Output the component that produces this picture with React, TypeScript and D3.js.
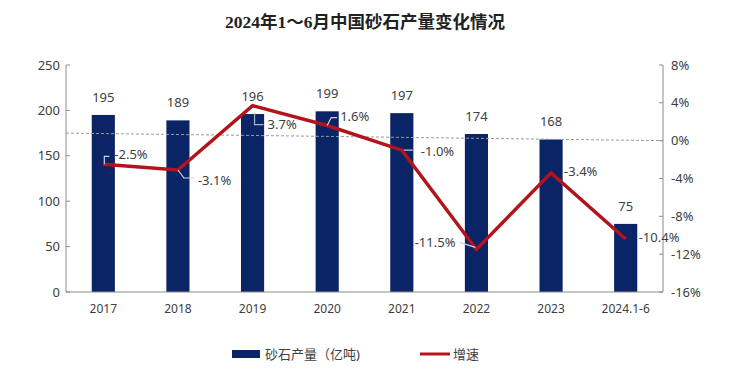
import React from "react";
import * as d3 from "d3";

// 中国砂石产量 (亿吨) 及增速
const years = ["2017", "2018", "2019", "2020", "2021", "2022", "2023", "2024.1-6"];
const output = [195, 189, 196, 199, 197, 174, 168, 75];
const growth = [-2.5, -3.1, 3.7, 1.6, -1.0, -11.5, -3.4, -10.4];
const leftTicks = [0, 50, 100, 150, 200, 250];
const rightTicks = [8, 4, 0, -4, -8, -12, -16];
// dashed reference line: from 175 on left axis to 0% on right axis
const refLeft = 175;
const refRight = 0;

// label placement for the growth callouts (offset from point, leader path)
const calloutStyle = [
  { dx: 11, dy: -10, anchor: "start", leader: [[1, 0], [1, -8], [6, -8]] },
  { dx: 20, dy: 10, anchor: "start", leader: [[0, 0], [6, 8], [16, 8]] },
  { dx: 15, dy: 19, anchor: "start", leader: [[2, 7], [2, 19], [11, 19]] },
  { dx: 13, dy: -9, anchor: "start", leader: [[0, 0], [4, -8], [10, -8]] },
  { dx: 19, dy: 1, anchor: "start", leader: [[2, 0], [11, 0]] },
  { dx: -21, dy: -7, anchor: "end", leader: [[-1, -2], [-17, -7]] },
  { dx: 13, dy: -1, anchor: "start", leader: [] },
  { dx: 13, dy: -2, anchor: "start", leader: [] },
];

const W = 754;
const H = 373;
const left = 66;
const right = 663;
const top = 65;
const bottom = 292;
const barColor = "#0b2466";
const lineColor = "#b3141c";
const textColor = "#404040";
const font = "'Noto Sans', 'Noto Sans CJK SC', sans-serif";

export default function App() {
  const x = d3.scaleBand<string>().domain(years).range([left, right]).paddingInner(0.69).paddingOuter(0.345);
  const yL = d3.scaleLinear().domain([0, 250]).range([bottom, top]);
  const yR = d3.scaleLinear().domain([-16, 8]).range([bottom, top]);
  const cx = (d: string) => (x(d) ?? 0) + x.bandwidth() / 2;

  const line = d3
    .line<number>()
    .x((_, i) => cx(years[i]))
    .y((d) => yR(d));

  return (
    <svg width={W} height={H} style={{ position: "absolute", left: 0, top: 0, background: "#fff" }}>
      <text
        x={365}
        y={28}
        textAnchor="middle"
        fontFamily="'Liberation Serif', 'Noto Sans CJK SC', serif"
        fontWeight="bold"
        fontSize={17}
        fill="#222"
        textLength={280}
        lengthAdjust="spacingAndGlyphs"
      >
        2024年1～6月中国砂石产量变化情况
      </text>

      {/* bars */}
      {output.map((v, i) => (
        <rect key={years[i]} x={x(years[i])} y={yL(v)} width={x.bandwidth()} height={bottom - yL(v)} fill={barColor} />
      ))}
      {output.map((v, i) => (
        <text key={"bl" + i} x={cx(years[i])} y={yL(v) - 13} textAnchor="middle" fontFamily={font} fontSize={13} fill={textColor}>
          {v}
        </text>
      ))}

      {/* dashed reference line */}
      <line x1={left} x2={right} y1={yL(refLeft)} y2={yR(refRight)} stroke="#9a9a9a" strokeWidth={1} strokeDasharray="3,2" />

      {/* axes */}
      <line x1={left} x2={left} y1={top} y2={bottom} stroke="#8c8c8c" />
      <line x1={right} x2={right} y1={top} y2={bottom} stroke="#8c8c8c" />
      <line x1={left} x2={right} y1={bottom} y2={bottom} stroke="#8c8c8c" />
      {leftTicks.map((t) => (
        <g key={"l" + t}>
          <line x1={left} x2={left + 4} y1={yL(t)} y2={yL(t)} stroke="#8c8c8c" />
          <text x={left - 6} y={yL(t)} dy="0.35em" textAnchor="end" fontFamily={font} fontSize={13} fill={textColor}>
            {t}
          </text>
        </g>
      ))}
      {rightTicks.map((t) => (
        <g key={"r" + t}>
          <line x1={right - 4} x2={right} y1={yR(t)} y2={yR(t)} stroke="#8c8c8c" />
          <text x={right + 8} y={yR(t)} dy="0.35em" textAnchor="start" fontFamily={font} fontSize={13} fill={textColor}>
            {t}%
          </text>
        </g>
      ))}
      {years.map((c) => (
        <text key={"x" + c} x={cx(c)} y={309} dy="0.35em" textAnchor="middle" fontFamily={font} fontSize={12} fill={textColor}>
          {c}
        </text>
      ))}

      {/* growth line */}
      <path d={line(growth) ?? ""} fill="none" stroke={lineColor} strokeWidth={3.5} strokeLinejoin="miter" />

      {/* callouts */}
      {growth.map((g, i) => {
        const px = cx(years[i]);
        const py = yR(g);
        const s = calloutStyle[i];
        const onBar = py > yL(output[i]);
        return (
          <g key={"c" + i}>
            {s.leader.length > 1 && (
              <polyline
                points={s.leader.map(([a, b]) => `${px + a},${py + b}`).join(" ")}
                fill="none"
                stroke={onBar ? "#c9d3e6" : "#a6b4c8"}
                strokeWidth={1.2}
              />
            )}
            <text
              x={px + s.dx}
              y={py + s.dy}
              dy="0.35em"
              textAnchor={s.anchor as "start" | "end"}
              fontFamily={font}
              fontSize={13}
              fill={textColor}
            >
              {g.toFixed(1)}%
            </text>
          </g>
        );
      })}

      {/* legend */}
      <rect x={232} y={350} width={28} height={8} fill={barColor} />
      <text x={265} y={354} dy="0.35em" fontFamily={font} fontSize={13} fill={textColor}>
        砂石产量（亿吨)
      </text>
      <line x1={420} x2={450} y1={354} y2={354} stroke={lineColor} strokeWidth={3} />
      <text x={453} y={354} dy="0.35em" fontFamily={font} fontSize={13} fill={textColor}>
        增速
      </text>
    </svg>
  );
}
